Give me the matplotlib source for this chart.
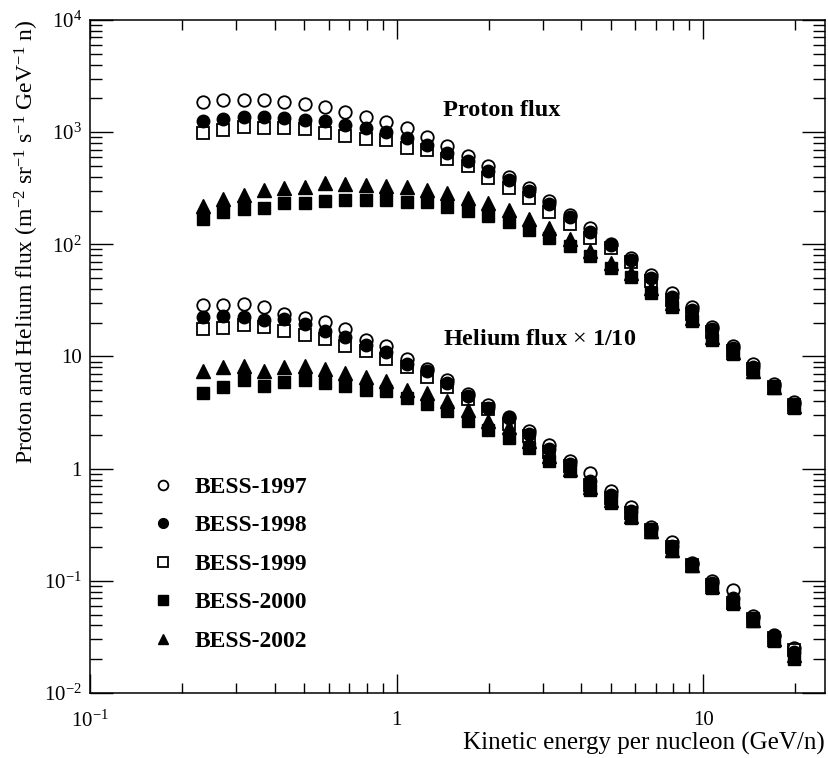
import matplotlib.pyplot as plt
from matplotlib.ticker import FixedLocator, FixedFormatter, LogLocator, NullFormatter

fz = 15

# kinetic energy bins (GeV/n)
energy = [0.233, 0.272, 0.317, 0.369, 0.430, 0.502, 0.585, 0.681, 0.794, 0.926,
          1.08, 1.26, 1.46, 1.71, 1.99, 2.32, 2.70, 3.15, 3.67, 4.28,
          4.99, 5.81, 6.78, 7.90, 9.21, 10.7, 12.5, 14.6, 17.0, 19.8]

# proton flux
p1997 = [1840, 1930, 1940, 1940, 1860, 1770, 1660, 1500, 1370, 1240,
         1080, 908, 757, 616, 502, 401, 316, 242, 183, 139,
         100, 75, 53, 36.5, 27.4, 18.3, 12.4, 8.5, 5.7, 3.9]
p1998 = [1250, 1310, 1360, 1360, 1350, 1290, 1250, 1170, 1080, 994,
         879, 766, 653, 555, 449, 373, 297, 227, 175, 129,
         98, 72, 50, 34, 26, 17.5, 11.8, 8.1, 5.5, 3.8]
p1999 = [986, 1036, 1115, 1092, 1092, 1064, 986, 927, 861, 844,
         720, 690, 582, 500, 394, 321, 261, 194, 151, 115,
         92, 69, 47, 32, 24, 16.5, 11.3, 7.8, 5.4, 3.7]
p2000 = [169, 194, 205, 211, 232, 232, 242, 246, 249, 247,
         237, 237, 213, 199, 178, 157, 133, 115, 96, 78,
         61, 51, 37, 27.5, 20.6, 14.0, 10.6, 7.2, 5.2, 3.5]
p2002 = [220, 256, 278, 302, 318, 325, 351, 345, 341, 331,
         323, 308, 287, 261, 234, 201, 169, 141, 112, 88,
         68, 55, 41, 30, 22, 15, 11, 7.5, 5.4, 3.6]

# helium flux, already multiplied by 1/10
h1997 = [28.5, 28.5, 29.1, 27.5, 23.7, 22.1, 20.5, 17.7, 13.9, 12.5,
         9.5, 7.8, 6.2, 4.65, 3.66, 2.91, 2.15, 1.63, 1.16, 0.92,
         0.63, 0.455, 0.30, 0.22, 0.145, 0.10, 0.082, 0.049, 0.033, 0.025]
h1998 = [22.4, 22.8, 22.4, 21.3, 21.7, 19.6, 16.8, 14.9, 12.7, 10.9,
         8.5, 7.5, 5.8, 4.4, 3.5, 2.8, 2.05, 1.5, 1.1, 0.78,
         0.58, 0.42, 0.29, 0.205, 0.14, 0.095, 0.070, 0.047, 0.032, 0.023]
h1999 = [17.7, 18.0, 18.9, 18.3, 16.8, 15.4, 14.4, 12.5, 11.3, 9.5,
         8.1, 6.5, 5.4, 4.2, 3.37, 2.5, 1.95, 1.4, 1.05, 0.72,
         0.55, 0.40, 0.285, 0.20, 0.138, 0.092, 0.064, 0.046, 0.031, 0.024]
h2000 = [4.7, 5.3, 6.2, 5.5, 5.9, 6.2, 5.8, 5.5, 5.0, 4.9,
         4.3, 3.8, 3.25, 2.67, 2.2, 1.88, 1.53, 1.18, 0.95, 0.64,
         0.49, 0.36, 0.27, 0.185, 0.135, 0.086, 0.062, 0.044, 0.029, 0.020]
h2002 = [7.5, 8.1, 8.3, 7.4, 8.1, 8.3, 7.8, 7.1, 6.5, 6.1,
         5.0, 4.7, 4.0, 3.3, 2.68, 2.35, 1.75, 1.3, 1.0, 0.68,
         0.53, 0.38, 0.28, 0.19, 0.137, 0.09, 0.066, 0.045, 0.030, 0.022]

labels = ['BESS-1997', 'BESS-1998', 'BESS-1999', 'BESS-2000', 'BESS-2002']
proton = [p1997, p1998, p1999, p2000, p2002]
helium = [h1997, h1998, h1999, h2000, h2002]

x_ticks = [0.1, 1, 10]
x_ticklabels = [r'$10^{-1}$', '1', '10']
y_ticks = [1e-2, 1e-1, 1, 10, 1e2, 1e3, 1e4]
y_ticklabels = [r'$10^{-2}$', r'$10^{-1}$', '1', '10', r'$10^{2}$', r'$10^{3}$', r'$10^{4}$']

styles = [
    dict(marker='o', mfc='none', mec='k', mew=1.3, ms=9),
    dict(marker='o', mfc='k', mec='k', ms=9),
    dict(marker='s', mfc='none', mec='k', mew=1.3, ms=8.8),
    dict(marker='s', mfc='k', mec='k', ms=8.8),
    dict(marker='^', mfc='k', mec='k', ms=9.4),
]

plt.rcParams['font.family'] = ['Liberation Serif', 'DejaVu Serif']
plt.rcParams['mathtext.fontset'] = 'custom'
plt.rcParams['mathtext.rm'] = 'Liberation Serif'
plt.rcParams['mathtext.it'] = 'Liberation Serif:italic'
plt.rcParams['mathtext.bf'] = 'Liberation Serif:bold'


def draw_flux():
    fig = plt.figure(figsize=(8.29, 7.58), dpi=100)
    ax = fig.add_axes([0.1086, 0.0858, 0.8866, 0.8878])

    for lab, p, h, st in zip(labels, proton, helium, styles):
        ax.plot(energy, p, ls='none', label=lab, **st)
        ax.plot(energy, h, ls='none', **st)

    ax.set_xscale('log')
    ax.set_yscale('log')

    # 坐标
    ax.xaxis.set_major_locator(FixedLocator(x_ticks))
    ax.xaxis.set_major_formatter(FixedFormatter(x_ticklabels))
    ax.xaxis.set_minor_locator(LogLocator(base=10, subs=range(2, 10), numticks=20))
    ax.xaxis.set_minor_formatter(NullFormatter())
    ax.yaxis.set_major_locator(FixedLocator(y_ticks))
    ax.yaxis.set_major_formatter(FixedFormatter(y_ticklabels))
    ax.yaxis.set_minor_locator(LogLocator(base=10, subs=range(2, 10), numticks=20))
    ax.yaxis.set_minor_formatter(NullFormatter())
    ax.set_xlim(0.1, 25)
    ax.set_ylim(1e-2, 1e4)

    ax.tick_params(axis='x', which='major', direction='in', length=14, width=1,
                   top=True, labelsize=fz, pad=13)
    ax.tick_params(axis='x', which='minor', direction='in', length=7, width=1, top=True)
    ax.tick_params(axis='y', which='major', direction='in', length=16.5, width=1,
                   right=True, labelsize=fz, pad=6)
    ax.tick_params(axis='y', which='minor', direction='in', length=8.6, width=1, right=True)
    for s in ax.spines.values():
        s.set_linewidth(1.1)

    ax.set_xlabel('Kinetic energy per nucleon (GeV/n)', fontsize=18, loc='right', labelpad=0)
    ax.set_ylabel(r'Proton and Helium flux (m$^{-2}$ sr$^{-1}$ s$^{-1}$ GeV$^{-1}$ n)',
                  fontsize=17, loc='top', labelpad=2)

    # 标注
    ax.text(0.48, 0.866, 'Proton flux', transform=ax.transAxes,
            fontsize=17.5, fontweight='bold', va='center')
    ax.text(0.48, 0.525, r'Helium flux $\times$ 1/10', transform=ax.transAxes,
            fontsize=17.5, fontweight='bold', va='center')

    # 图例
    ax.legend(loc='upper left', bbox_to_anchor=(0.067, 0.336), frameon=False,
              prop={'weight': 'bold', 'size': 17}, handletextpad=0.75,
              labelspacing=0.72, markerscale=0.78, handlelength=1.2, borderaxespad=0)

    plt.savefig('out.png', dpi=100)
    plt.close()


draw_flux()
